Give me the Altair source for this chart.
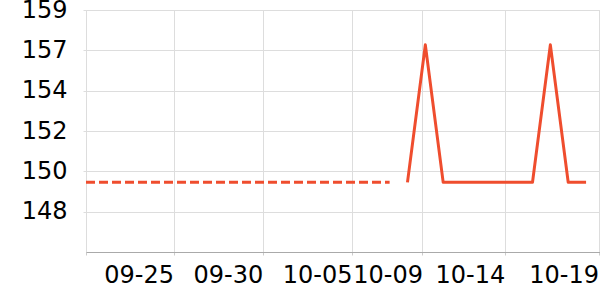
import altair as alt
import pandas as pd

# Series values (day index from chart start)
dashed_days = list(range(0, 18))
dashed_vals = [149.4] * 18
solid_days = list(range(18, 29))
solid_vals = [149.4, 156.9, 149.4, 149.4, 149.4, 149.4, 149.4, 149.4, 156.9, 149.4, 149.4]

# X tick positions (in day units) and their labels
x_tick_pos = [0, 4.9, 9.9, 14.89, 18.84, 23.45, 28.7]
x_tick_lab = ["", "09-25", "09-30", "10-05", "10-09", "10-14", "10-19"]

# Y ticks
y_tick_vals = [147.8, 150.0, 152.2, 154.4, 156.6, 158.8]
y_domain = [145.6, 158.8]
x_domain = [0, 28.78]

color = "#ef4d2e"

df_d = pd.DataFrame({"day": dashed_days, "v": dashed_vals})
df_s = pd.DataFrame({"day": solid_days, "v": solid_vals})

expr = ""
for p, l in zip(x_tick_pos, x_tick_lab):
    expr += f"abs(datum.value - {p}) < 0.001 ? '{l}' : "
expr += "''"

x_enc = alt.X(
    "day:Q",
    scale=alt.Scale(domain=x_domain, nice=False, zero=False),
    axis=alt.Axis(
        values=x_tick_pos,
        labelExpr=expr,
        labelAlign="right",
        labelFlush=False,
        labelOverlap=False,
        labelBound=False,
        labelFont="DejaVu Sans",
        labelFontSize=24,
        labelColor="#000000",
        labelPadding=8,
        tickSize=3,
        tickColor="#cccccc",
        domainColor="#aaaaaa",
        gridColor="#dddddd",
        title=None,
    ),
)
y_enc = alt.Y(
    "v:Q",
    scale=alt.Scale(domain=y_domain, nice=False, zero=False),
    axis=alt.Axis(
        values=y_tick_vals,
        format=".0f",
        labelFlush=False,
        labelOverlap=False,
        labelFont="DejaVu Sans",
        labelFontSize=24,
        labelColor="#000000",
        labelPadding=16,
        tickSize=3,
        tickColor="#dddddd",
        domain=False,
        gridColor="#dddddd",
        title=None,
    ),
)

dashed = alt.Chart(df_d).mark_line(
    color=color, strokeWidth=3, strokeDash=[9, 4], clip=True
).encode(x=x_enc, y=y_enc)

solid = alt.Chart(df_s).mark_line(
    color=color, strokeWidth=3, strokeJoin="round", clip=True
).encode(x=x_enc, y=y_enc)

chart = (
    alt.layer(dashed, solid)
    .properties(
        width=514,
        height=242,
        padding={"left": 86, "top": 10, "right": 0, "bottom": 48},
        autosize="none",
    )
    .configure_view(stroke=None)
    .configure(background="white")
)

chart.save("out.html", embed_options={"renderer": "svg", "actions": False})
